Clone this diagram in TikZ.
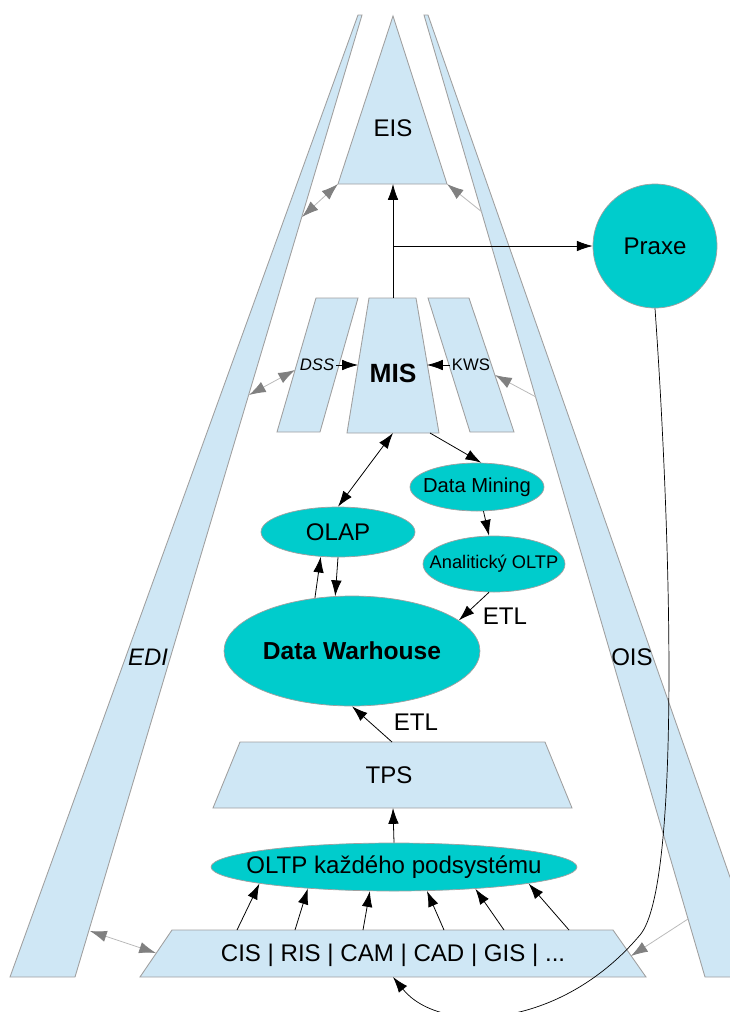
\documentclass[tikz,border=0pt]{standalone}
\usepackage{fontspec}
\setmainfont{Liberation Sans}
\usetikzlibrary{arrows.meta,shapes.geometric}
\definecolor{paleblue}{HTML}{CFE7F5}
\definecolor{turq}{HTML}{00CCCC}
\definecolor{rim}{HTML}{A0A0A0}
\newcommand{\fsz}[1]{\fontsize{#1}{#1}\selectfont}
\newcommand{\ctr}[1]{\makebox[0pt]{#1}}

\begin{document}
\begin{tikzpicture}[x=0.02cm,y=-0.02cm,
    >={Latex[length=9pt,width=6pt]},
    pane/.style={fill=paleblue,draw=rim,line width=0.5pt},
    blob/.style={ellipse,fill=turq,draw=rim,line width=0.4pt,inner sep=0pt},
    lbl/.style={inner sep=1pt,font=\fsz{13.7}},
    arr/.style={->,line width=0.45pt},
    garr/.style={->,>={Latex[length=9.5pt,width=6.5pt,color=gray]},draw=gray!55,line width=0.45pt},
    gdbl/.style={garr,<->}]

  \useasboundingbox (0,0) rectangle (730,1012);
  \clip (0,0) rectangle (730,1012);

  \draw[pane] (358,15) -- (362,15) -- (75,977)  -- (10,977)  -- cycle;
  \draw[pane] (424,15) -- (428,15) -- (765,977) -- (705,977) -- cycle;
  \draw[pane] (393,16) -- (447,184) coordinate (eisR) -- (338,184) coordinate (eisL) -- cycle;
  \draw[pane] (316,298) -- (358,298) -- (320,432) -- (277,432) -- cycle;
  \draw[pane] (369,298) -- (416,298) -- (439,433) -- (347,433) -- cycle;
  \draw[pane] (428,298) -- (469,298) -- (514,432) -- (470,432) -- cycle;
  \draw[pane] (240,742) -- (545,742) -- (572,808) -- (213,808) -- cycle;
  \draw[pane] (172,930) -- (613,930) -- (646,977) -- (140,977) -- cycle;

  \node[lbl]                            (eis)   at (393,128) {EIS};
  \node[lbl,font=\fsz{13.6}\itshape]    (edi)   at (148,657) {EDI};
  \node[lbl]                            (ois)   at (632,657) {OIS};
  \node[lbl,font=\fsz{9.5}\itshape]     (dss)   at (317,365) {DSS};
  \node[lbl,font=\fsz{15}\bfseries]     (mis)   at (393,373) {MIS};
  \node[lbl,font=\fsz{9.5}]             (kws)   at (471,365) {KWS};
  \node[blob,circle,minimum size=2.48cm,font=\fsz{13.7}]                 (praxe) at (655,246) {Praxe};
  \node[blob,minimum width=2.68cm,minimum height=0.96cm,font=\fsz{11.5}] (dm)    at (477,487) {\ctr{Data Mining}};
  \node[blob,minimum width=3.08cm,minimum height=1cm,font=\fsz{13.7}]    (olap)  at (338,532) {\ctr{OLAP}};
  \node[blob,minimum width=2.84cm,minimum height=1.12cm,font=\fsz{10.4}] (aoltp) at (494,564) {\ctr{Analitický OLTP}};
  \node[blob,minimum width=5.12cm,minimum height=2.2cm,font=\fsz{14}\bfseries] (dw) at (352,651) {\ctr{Data Warhouse}};
  \node[lbl]                            (tps)   at (389,775) {TPS};
  \node[blob,minimum width=7.32cm,minimum height=0.96cm,font=\fsz{13.7}] (oltp)  at (394,867) {\ctr{OLTP každého podsystému}};
  \node[lbl]                            (src)   at (393,955) {CIS | RIS | CAM | CAD | GIS | ...};
  \node[lbl]                            (etlA)  at (505,616) {ETL};
  \node[lbl]                            (etlB)  at (416,722) {ETL};

  \coordinate (eisB) at (393,184);
  \coordinate (fork) at (393,246);
  \coordinate (misN) at (393,298);
  \coordinate (misW) at (358,365);
  \coordinate (misE) at (427,365);
  \coordinate (misS) at (393,433);
  \coordinate (misD) at (430,433);
  \coordinate (dssW) at (295,370);
  \coordinate (kwsE) at (495,375);
  \coordinate (tpsN) at (392,742);
  \coordinate (tpsS) at (393,808);
  \coordinate (srcW) at (156,953);
  \coordinate (srcE) at (631,956);
  \coordinate (srcS) at (393,977);
  \coordinate (ediA) at (302,217);
  \coordinate (ediB) at (249,395);
  \coordinate (ediC) at (90,931);
  \coordinate (oisA) at (482,212);
  \coordinate (oisB) at (536,397);
  \coordinate (oisC) at (688,919);
  \foreach \x [count=\i] in {237,295,363,444,504,569}
    \coordinate (s\i) at (\x,930);

  \path[arr]
    (misN)       edge            (eisB)
    (fork)       edge            (praxe)
    (dss)        edge            (misW)
    (kws)        edge            (misE)
    (misS)       edge [<->]      (olap.north)
    (misD)       edge            (dm.80)
    (dm.-75)     edge            (aoltp.100)
    (aoltp.-100) edge            (dw.16)
    (olap.-90)   edge            (dw.107)
    (dw.125)     edge            (olap.-125)
    (tpsN)       edge            (dw.-90)
    (oltp.north) edge            (tpsS);

  \foreach \i/\a in {1/187,2/194,3/225,4/-36,5/-15,6/-7}
    \draw[arr] (s\i) -- (oltp.\a);

  \path
    (eisL) edge [gdbl] (ediA)
    (oisA) edge [garr] (eisR)
    (dssW) edge [gdbl] (ediB)
    (oisB) edge [garr] (kwsE)
    (ediC) edge [gdbl] (srcW)
    (oisC) edge [garr] (srcE);

  \draw[arr,line width=0.4pt] (praxe.south) .. controls (672,550) and (680,888) .. (640,935)
    .. controls (560,1030) and (440,1035) .. (srcS);

\end{tikzpicture}
\end{document}
